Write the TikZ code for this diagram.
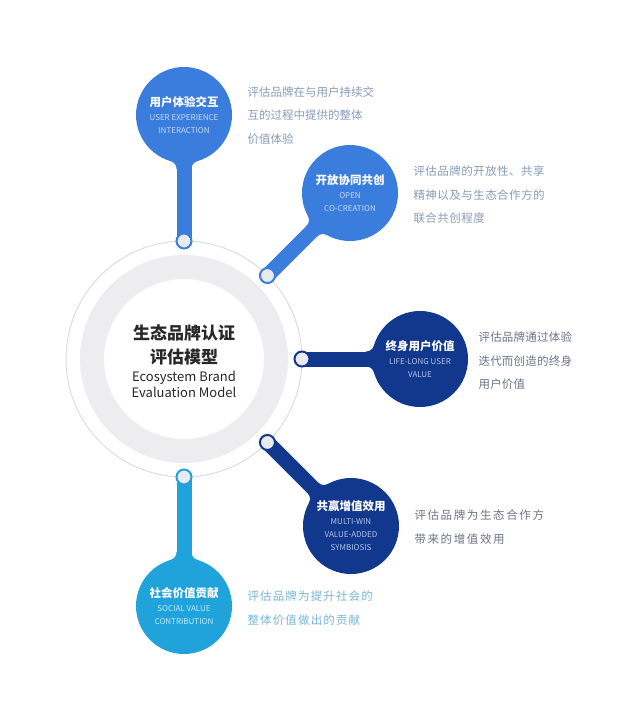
\documentclass[tikz,border=0pt]{standalone}
\usepackage{fontspec}
\setmainfont{Noto Sans CJK SC}
\usetikzlibrary{backgrounds,positioning}

\definecolor{blueA}{RGB}{58,125,220}
\definecolor{navy}{RGB}{18,56,142}
\definecolor{cyanA}{RGB}{31,163,218}
\definecolor{dotgray}{RGB}{232,234,240}
\definecolor{ringgray}{RGB}{237,237,239}
\definecolor{linegray}{RGB}{221,221,223}
\definecolor{subblue}{RGB}{200,218,246}
\definecolor{subnavy}{RGB}{176,192,228}
\definecolor{subcyan}{RGB}{196,234,248}
\definecolor{descblue}{RGB}{138,155,185}
\definecolor{descgray}{RGB}{108,116,132}
\definecolor{desccyan}{RGB}{120,182,216}
\definecolor{titlegray}{RGB}{40,40,40}

\tikzset{
  bubble/.style 2 args={circle, minimum size=96pt, inner sep=0pt, fill=#1, text=#2,
    align=center, font=\fontsize{8}{13}\selectfont},
  dot/.style={circle, minimum size=15pt, inner sep=0pt, fill=dotgray, draw=#1, line width=2pt},
  stem/.style={draw=#1, line width=15pt},
  desc/.style={anchor=west, align=left, text=#1, font=\fontsize{11.5}{23.5}\selectfont},
  wide/.style={font=\fontsize{11.5}{23.5}\selectfont\addfontfeature{LetterSpace=#1}},
}

% bold white title line of a bubble
\newcommand\bubbletitle[1]{\textcolor{white}{\bfseries\fontsize{11.5}{15}\selectfont #1}}
% smooth joint between a stem and its bubble
\newcommand\stemfillet[3]{\fill[#1, shift={(#2.center)}, rotate=#3]
  (0pt,0pt) -- (46.12pt,13.29pt) arc[start angle=196.04, end angle=270, radius=8pt]
  -- (53.81pt,-7.5pt) arc[start angle=90, end angle=163.96, radius=8pt] -- cycle;}

\begin{document}
\begin{tikzpicture}[x=1pt, y=1pt]
\useasboundingbox (0,0) rectangle (640,-720);

% central model
\coordinate (M) at (184,-359);
\draw[linegray, line width=1pt] (M) circle[radius=118pt];
\draw[ringgray, line width=24pt] (M) circle[radius=92pt];
\node[align=center, text=titlegray, font=\bfseries\fontsize{17}{24}\selectfont] (title) at (184,-345)
  {生态品牌认证\\评估模型};
\node[align=center, text=titlegray, font=\fontsize{13}{16}\selectfont, below=2pt of title, inner sep=0pt] (subtitle)
  {Ecosystem Brand\\Evaluation Model};

% dots on the ring
\path (M) ++(90:118) node[dot=blueA] (d1) {};
\path (M) ++(45:118) node[dot=blueA] (d2) {};
\path (M) ++(0:118) node[dot=navy] (d3) {};
\path (M) ++(-45:118) node[dot=navy] (d4) {};
\path (M) ++(-90:118) node[dot=cyanA] (d5) {};

% bubbles
\node[bubble={blueA}{subblue}] (c1) at (184,-115) {\bubbletitle{用户体验交互}\\[1pt]USER EXPERIENCE\\INTERACTION};
\node[bubble={blueA}{subblue}] (c2) at (350,-193) {\bubbletitle{开放协同共创}\\[1pt]OPEN\\CO-CREATION};
\node[bubble={navy}{subnavy}] (c3) at (420,-359) {\bubbletitle{终身用户价值}\\[1pt]LIFE-LONG USER\\VALUE};
\node[bubble={navy}{subnavy}] (c4) at (351,-526) {\bubbletitle{共赢增值效用}\\[1pt]MULTI-WIN\\VALUE-ADDED\\SYMBIOSIS};
\node[bubble={cyanA}{subcyan}] (c5) at (184,-606) {\bubbletitle{社会价值贡献}\\[1pt]SOCIAL VALUE\\CONTRIBUTION};

\begin{pgfonlayer}{background}
  \fill[white] (0,0) rectangle (640,-720);
  \draw[stem=blueA] (d1.center) -- (c1.center);
  \draw[stem=blueA] (d2.center) -- (c2.center);
  \draw[stem=navy] (d3.center) -- (c3.center);
  \draw[stem=navy] (d4.center) -- (c4.center);
  \draw[stem=cyanA] (d5.center) -- (c5.center);
  \stemfillet{blueA}{c1}{-90}
  \stemfillet{blueA}{c2}{-135}
  \stemfillet{navy}{c3}{180}
  \stemfillet{navy}{c4}{135}
  \stemfillet{cyanA}{c5}{90}
\end{pgfonlayer}

% descriptions
\node[desc=descblue] (t1) at (244,-115.5) {评估品牌在与用户持续交\\互的过程中提供的整体\\价值体验};
\node[desc=descblue, wide=4] (t2) at (410,-195) {评估品牌的开放性、共享\\精神以及与生态合作方的\\联合共创程度};
\node[desc=descgray, wide=2] (t3) at (475,-361) {评估品牌通过体验\\迭代而创造的终身\\用户价值};
\node[desc=descgray, wide=14] (t4) at (411,-527) {评估品牌为生态合作方\\带来的增值效用};
\node[desc=desccyan, wide=10] (t5) at (244,-608) {评估品牌为提升社会的\\整体价值做出的贡献};
\end{tikzpicture}
\end{document}
